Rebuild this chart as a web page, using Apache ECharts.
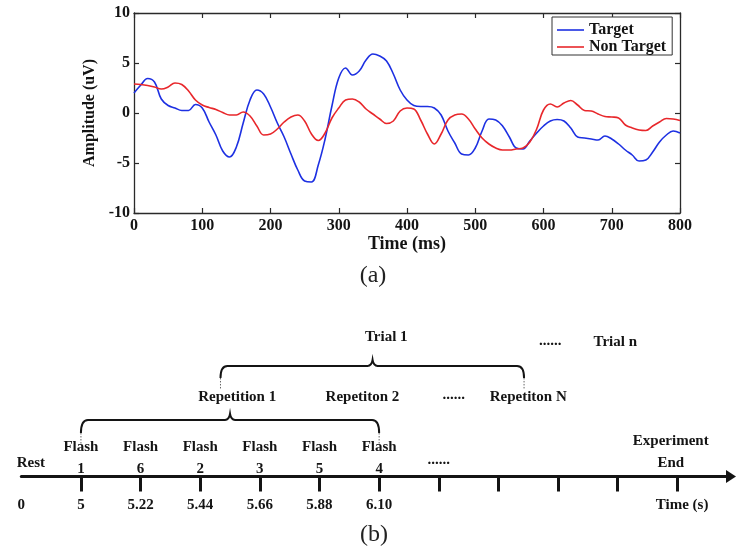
<!DOCTYPE html>
<html>
<head>
<meta charset="utf-8">
<script src="https://cdn.jsdelivr.net/npm/echarts@6/dist/echarts.min.js"></script>
<style>
  html, body { margin: 0; padding: 0; background: #fff; }
  #chart { width: 736px; height: 557px; }
</style>
</head>
<body>
<div id="chart"></div>
<script>
// ---- (a) averaged ERP waveforms, one sample every 10 ms ----
const timeMs = Array.from({ length: 81 }, (_, i) => i * 10);

const targetUv = [
  2.0, 2.8, 3.45, 3.1, 1.4, 0.75, 0.5, 0.25, 0.25, 0.85, 0.5,
  -0.9, -2.2, -3.8, -4.4, -3.4, -1.0, 1.3, 2.3, 1.9, 0.6,
  -1.0, -2.4, -4.1, -5.7, -6.8, -6.9, -5.2, -2.6, 0.7, 3.5,
  4.5, 3.8, 4.2, 5.3, 5.9, 5.7, 5.2, 3.9, 2.3, 1.3,
  0.75, 0.65, 0.65, 0.5, -0.2, -1.8, -3.0, -4.1, -4.2, -3.5,
  -1.8, -0.6, -0.7, -1.3, -2.4, -3.5, -3.6, -2.8, -2.0, -1.3,
  -0.8, -0.65, -0.8, -1.5, -2.4, -2.5, -2.6, -2.7, -2.3, -2.6,
  -3.1, -3.7, -4.2, -4.8, -4.7, -3.9, -2.9, -2.2, -1.8, -2.0
];

const nonTargetUv = [
  2.9, 2.85, 2.75, 2.6, 2.4, 2.6, 3.0, 2.85, 2.2, 1.3, 0.8,
  0.55, 0.35, 0.05, -0.2, -0.2, 0.1, -0.3, -1.3, -2.2, -2.1,
  -1.6, -0.9, -0.4, -0.2, -0.8, -2.1, -2.75, -2.0, -0.5, 0.5,
  1.3, 1.4, 1.1, 0.4, -0.1, -0.6, -1.05, -0.8, 0.2, 0.5,
  0.4, -0.7, -2.1, -3.1, -2.1, -0.7, -0.2, -0.1, -0.6, -1.6,
  -2.5, -3.1, -3.5, -3.7, -3.7, -3.6, -3.5, -2.9, -1.6, 0.3,
  0.9, 0.6, 1.0, 1.25, 0.8, 0.25, 0.2, -0.1, -0.35, -0.4,
  -0.5, -1.2, -1.5, -1.7, -1.75, -1.3, -0.9, -0.55, -0.6, -0.75
];

const seriesNames = ['Target', 'Non Target'];

// ---- (b) stimulation timeline ----
const flashOrder = ['1', '6', '2', '3', '5', '4'];
const flashTimes = ['5', '5.22', '5.44', '5.66', '5.88', '6.10'];
const timelineStartLabel = '0';
const timelineUnitLabel = 'Time (s)';
const repetitionLabels = ['Repetition 1', 'Repetiton 2', '......', 'Repetiton N'];
const trialLabels = ['Trial 1', '......', 'Trial n'];
const restLabel = 'Rest';
const endLabel = 'Experiment\nEnd';
const moreFlashesLabel = '......';

const SERIF = '"Liberation Serif", "Times New Roman", serif';
const INK = '#141414';
const AXIS = '#2a2a2a';
const BLUE = '#1d30e2';
const RED = '#e8272b';

// text notes placed on the timeline grid (x in flash slots, y in grid units)
const notes = [
  { x: -0.84, y: 0.88, text: restLabel },
  ...flashOrder.map((d, i) => ({ x: i, y: 1.21, text: 'Flash\n' + d })),
  { x: 6.0, y: 1.08, text: moreFlashesLabel },
  { x: 9.89, y: 1.62, text: endLabel },
  ...repetitionLabels.map((t, i) => ({ x: [2.62, 4.72, 6.25, 7.5][i], y: i === 2 ? 5.4 : 5.32, text: t })),
  ...trialLabels.map((t, i) => ({ x: [5.12, 7.87, 8.96][i], y: [9.32, 9.05, 8.99][i], text: t }))
];

// braces: [start, end, peak, line level, solid end level, dotted end level]
const braces = [
  [0, 5, 2.5, 3.77, 2.9, 2.2],
  [2.34, 7.43, 4.89, 7.37, 6.57, 5.77]
];

const chart = echarts.init(document.getElementById('chart'), null, { renderer: 'canvas' });

const boldLabel = { fontFamily: SERIF, fontWeight: 'bold', fontSize: 16, color: INK };

const option = {
  backgroundColor: '#fff',
  animation: false,
  textStyle: { fontFamily: SERIF },
  grid: [
    { left: 134, top: 13, width: 546, height: 200, outerBoundsMode: 'none', containLabel: false },
    { left: 21.3, right: 5, top: 326.5, height: 150, outerBoundsMode: 'none', containLabel: false }
  ],
  legend: {
    data: seriesNames,
    orient: 'vertical',
    left: 552,
    top: 17,
    padding: [5, 6, 0, 5],
    itemGap: 1,
    icon: 'rect',
    itemWidth: 27,
    itemHeight: 1.6,
    borderColor: '#333',
    borderWidth: 1,
    borderRadius: 0,
    backgroundColor: '#fff',
    textStyle: { fontFamily: SERIF, fontWeight: 'bold', fontSize: 16, color: INK }
  },
  xAxis: [
    {
      gridIndex: 0, type: 'value', position: 'bottom',
      min: 0, max: 800, interval: 100,
      name: 'Time (ms)', nameLocation: 'middle', nameGap: 18,
      nameTextStyle: { fontFamily: SERIF, fontWeight: 'bold', fontSize: 18, color: INK },
      axisLine: { onZero: false, lineStyle: { color: AXIS, width: 1.3 } },
      axisTick: { inside: true, length: 5, lineStyle: { color: AXIS, width: 1.2 } },
      axisLabel: Object.assign({ margin: 5 }, boldLabel),
      splitLine: { show: false }
    },
    {
      gridIndex: 0, type: 'value', position: 'top',
      min: 0, max: 800, interval: 100,
      axisLine: { onZero: false, lineStyle: { color: AXIS, width: 1.3 } },
      axisTick: { inside: true, length: 5, lineStyle: { color: AXIS, width: 1.2 } },
      axisLabel: { show: false },
      splitLine: { show: false }
    },
    {
      gridIndex: 1, type: 'value', position: 'bottom',
      min: -1, max: 10.9,
      axisLine: {
        onZero: false,
        symbol: ['none', 'triangle'],
        symbolSize: [13, 10],
        lineStyle: { color: INK, width: 3 }
      },
      axisTick: {
        customValues: [0, 1, 2, 3, 4, 5, 6, 7, 8, 9, 10],
        length: 15,
        lineStyle: { color: INK, width: 3 }
      },
      axisLabel: {
        customValues: [-1, 0, 1, 2, 3, 4, 5, 10.08],
        margin: 21,
        fontFamily: SERIF, fontWeight: 'bold', fontSize: 15, color: INK,
        formatter: v => (v < 0 ? timelineStartLabel : v > 9 ? timelineUnitLabel : flashTimes[Math.round(v)])
      },
      splitLine: { show: false }
    }
  ],
  yAxis: [
    {
      gridIndex: 0, type: 'value', position: 'left',
      min: -10, max: 10, interval: 5,
      name: 'Amplitude (uV)', nameLocation: 'middle', nameGap: 34, nameRotate: 90,
      nameTextStyle: { fontFamily: SERIF, fontWeight: 'bold', fontSize: 16, color: INK },
      axisLine: { onZero: false, lineStyle: { color: AXIS, width: 1.3 } },
      axisTick: { inside: true, length: 5, lineStyle: { color: AXIS, width: 1.2 } },
      axisLabel: Object.assign({ margin: 4 }, boldLabel),
      splitLine: { show: false }
    },
    {
      gridIndex: 0, type: 'value', position: 'right',
      min: -10, max: 10, interval: 5,
      axisLine: { onZero: false, lineStyle: { color: AXIS, width: 1.3 } },
      axisTick: { inside: true, length: 5, lineStyle: { color: AXIS, width: 1.2 } },
      axisLabel: { show: false },
      splitLine: { show: false }
    },
    {
      gridIndex: 1, type: 'value', min: 0, max: 10, show: false
    }
  ],
  series: [
    {
      name: seriesNames[0], type: 'line', xAxisIndex: 0, yAxisIndex: 0,
      data: timeMs.map((t, i) => [t, targetUv[i]]),
      symbol: 'none', smooth: 0.4,
      lineStyle: { color: BLUE, width: 1.6 },
      itemStyle: { color: BLUE }
    },
    {
      name: seriesNames[1], type: 'line', xAxisIndex: 0, yAxisIndex: 0,
      data: timeMs.map((t, i) => [t, nonTargetUv[i]]),
      symbol: 'none', smooth: 0.4,
      lineStyle: { color: RED, width: 1.6 },
      itemStyle: { color: RED }
    },
    {
      // curly braces grouping flashes into a repetition and repetitions into a trial
      type: 'custom', xAxisIndex: 2, yAxisIndex: 2,
      data: braces,
      silent: true,
      renderItem: (params, api) => {
        const L = api.coord([api.value(0), api.value(3)]);
        const R = api.coord([api.value(1), api.value(3)]);
        const P = api.coord([api.value(2), api.value(3)]);
        const endY = api.coord([api.value(0), api.value(4)])[1];
        const dotY = api.coord([api.value(0), api.value(5)])[1];
        const y = L[1], r = 7, w = 5, h = 6;
        const d = [
          'M', L[0], endY,
          'Q', L[0], y, L[0] + r, y,
          'L', P[0] - w, y,
          'Q', P[0] - 1, y, P[0], y - h,
          'Q', P[0] + 1, y, P[0] + w, y,
          'L', R[0] - r, y,
          'Q', R[0], y, R[0], endY
        ].join(' ');
        const dotted = x => ({
          type: 'line',
          shape: { x1: x, y1: endY, x2: x, y2: dotY },
          style: { stroke: '#666', lineWidth: 1, lineDash: [1.5, 1.5] }
        });
        return {
          type: 'group',
          children: [
            { type: 'path', shape: { pathData: d }, style: { stroke: INK, lineWidth: 2, fill: 'none' } },
            dotted(L[0]),
            dotted(R[0])
          ]
        };
      }
    },
    {
      // timeline annotations
      type: 'custom', xAxisIndex: 2, yAxisIndex: 2,
      data: notes.map(n => [n.x, n.y]),
      silent: true,
      renderItem: (params, api) => {
        const p = api.coord([api.value(0), api.value(1)]);
        return {
          type: 'text',
          x: p[0], y: p[1],
          style: {
            text: notes[params.dataIndex].text,
            fill: INK,
            fontFamily: SERIF,
            fontWeight: 'bold',
            fontSize: 15,
            lineHeight: 22,
            align: 'center',
            verticalAlign: 'middle'
          }
        };
      }
    }
  ],
  graphic: [
    {
      type: 'text', x: 373, y: 276,
      style: { text: '(a)', fill: '#222', fontFamily: SERIF, fontSize: 24, align: 'center', verticalAlign: 'middle' }
    },
    {
      type: 'text', x: 374, y: 535,
      style: { text: '(b)', fill: '#222', fontFamily: SERIF, fontSize: 24, align: 'center', verticalAlign: 'middle' }
    }
  ]
};

chart.setOption(option);
</script>
</body>
</html>
